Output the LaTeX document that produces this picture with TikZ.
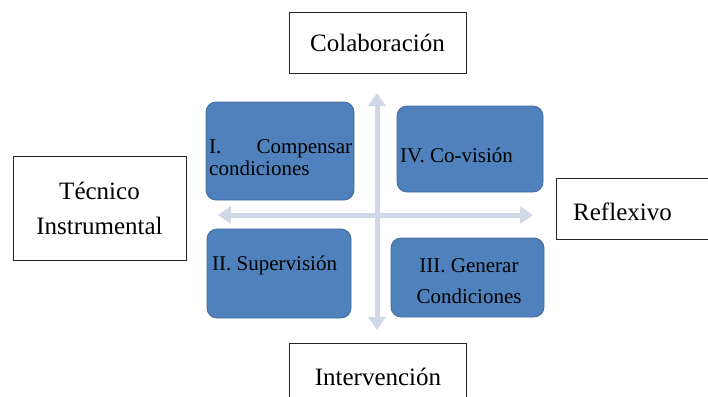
\documentclass[tikz,border=0pt]{standalone}
\usepackage{fontspec}
\setmainfont{Liberation Serif}
\usetikzlibrary{arrows.meta}
\definecolor{cuadro}{RGB}{79,129,189}
\definecolor{borde}{RGB}{65,106,155}
\definecolor{ejegris}{RGB}{208,216,232}

\begin{document}
\begin{tikzpicture}[x=1pt,y=-1pt,
 polo/.style={draw=black!85,line width=.8pt,inner sep=0pt},
 cuad/.style={fill=cuadro,draw=borde,line width=.8pt,rounded corners=10pt,inner sep=0pt},
 grande/.style={font=\fontsize{25}{30}\selectfont},
 txt/.style={anchor=base west,inner sep=0pt,font=\fontsize{21}{22}\selectfont},
 flecha/.style={ejegris,line width=5pt,{Triangle[width=17pt,length=13pt]}-{Triangle[width=17pt,length=13pt]}}]

	\useasboundingbox (0,0) rectangle (708,396);
	\clip (0,0) rectangle (708,396);

	% ejes
	\coordinate (arriba) at (377,93);
	\coordinate (abajo) at (377,330);
	\coordinate (izq) at (218,215);
	\coordinate (der) at (533,215);
	\draw[flecha] (abajo) -- (arriba);
	\draw[flecha] (izq) -- (der);

	% polos
	\node[polo,grande,minimum width=177pt,minimum height=61pt] (colab) at (377.5,42.5) {Colaboración};
	\node[polo,minimum width=177pt,minimum height=80pt] (interv) at (377.5,383) {};
	\node[grande,anchor=base,inner sep=0pt] (tinterv) at (378,385) {Intervención};
	\node[polo,align=center,minimum width=173pt,minimum height=104pt,font=\fontsize{25}{35}\selectfont] (tecnico) at (99.5,208) {Técnico\\Instrumental};
	\node[polo,minimum width=160pt,minimum height=61pt] (reflex) at (636,208.5) {};
	\node[grande,anchor=base west,inner sep=0pt] (treflex) at (573,220) {Reflexivo};

	% cuadrantes
	\node[cuad,minimum width=148pt,minimum height=98pt] (c1) at (280,151) {};
	\node[cuad,minimum width=146pt,minimum height=86pt] (c4) at (470,149) {};
	\node[cuad,minimum width=144pt,minimum height=89pt] (c2) at (279,273.5) {};
	\node[cuad,minimum width=153pt,minimum height=79pt] (c3) at (467.5,277.5) {};

	\node[txt,text width=143pt] (t1) at (209,153) {I.\hfill Compensar\\condiciones};
	\node[txt] (t4) at (400,162) {IV. Co-visión};
	\node[txt] (t2) at (212,270) {II. Supervisión};
	\node[txt,anchor=base,align=center,font=\fontsize{21}{31}\selectfont] (t3) at (469,303) {III. Generar\\Condiciones};
\end{tikzpicture}
\end{document}
